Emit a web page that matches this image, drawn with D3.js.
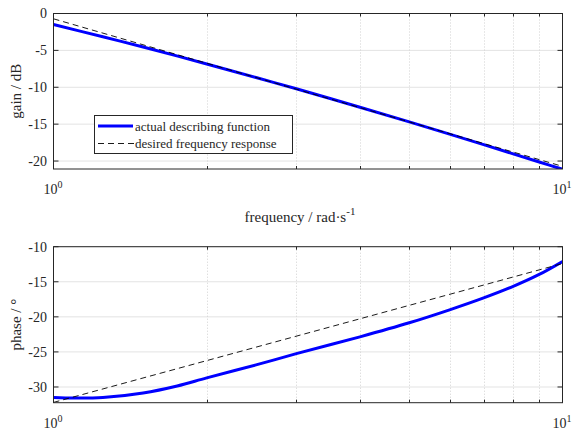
<!DOCTYPE html>
<html><head><meta charset="utf-8">
<script src="https://cdn.jsdelivr.net/npm/d3@7/dist/d3.min.js"></script>
<style>body{margin:0;background:#fff}svg{display:block}text{font-family:"Liberation Serif","Times New Roman",serif;fill:#262626}</style>
</head><body>
<script>
// ---- data ----
const freqGain = [1, 1.25, 1.5, 2, 2.5, 3, 4, 5, 6, 7, 8, 9, 10];
const gainActual = [-1.5, -3.16, -4.54, -6.84, -8.68, -10.21, -12.71, -14.7, -16.36, -17.78, -19.03, -20.13, -21.12];
const freqDesired = [1, 10];
const gainDesired = [-0.72, -20.72];
const freqPhase = [1, 1.1, 1.25, 1.5, 1.75, 2, 2.5, 3, 4, 5, 6, 7, 8, 9, 10];
const phaseActual = [-31.5, -31.58, -31.5, -30.85, -29.85, -28.7, -26.85, -25.25, -22.85, -20.85, -19.0, -17.3, -15.65, -13.95, -12.1];
const phaseDesired = [-32.2, -12.4];
const gainTicks = [0, -5, -10, -15, -20];
const phaseTicks = [-10, -15, -20, -25, -30];
const minorFreq = [2, 3, 4, 5, 6, 7, 8, 9];
const majorFreq = [1, 10];
const legendLabels = ["actual describing function", "desired frequency response"];

const W = 572, H = 434;
const svg = d3.select("body").append("svg").attr("width", W).attr("height", H);
const x = d3.scaleLog().domain([1, 10]).range([53.5, 562.5]);

function panel(id, top, bottom, domain, ticks, fa, ya, fd, yd, ylabel) {
  const y = d3.scaleLinear().domain(domain).range([bottom, top]);
  const g = svg.append("g");
  g.append("clipPath").attr("id", id).append("rect")
    .attr("x", x.range()[0]).attr("y", top).attr("width", x.range()[1] - x.range()[0]).attr("height", bottom - top);
  // grid
  g.selectAll(".hg").data(ticks).enter().append("line")
    .attr("x1", x.range()[0]).attr("x2", x.range()[1])
    .attr("y1", d => y(d)).attr("y2", d => y(d))
    .attr("stroke", "#e3e3e3").attr("stroke-width", 1);
  g.selectAll(".vg").data(minorFreq).enter().append("line")
    .attr("x1", d => Math.round(x(d)) + 0.5).attr("x2", d => Math.round(x(d)) + 0.5)
    .attr("y1", top).attr("y2", bottom)
    .attr("stroke", "#d0d0d0").attr("stroke-width", 1).attr("stroke-dasharray", "1,2");
  // ticks (inward, all four sides)
  const tl = 5;
  g.selectAll(".tb").data(minorFreq).enter().append("line")
    .attr("x1", d => Math.round(x(d)) + 0.5).attr("x2", d => Math.round(x(d)) + 0.5)
    .attr("y1", bottom).attr("y2", bottom - 3).attr("stroke", "#262626");
  g.selectAll(".tt").data(minorFreq).enter().append("line")
    .attr("x1", d => Math.round(x(d)) + 0.5).attr("x2", d => Math.round(x(d)) + 0.5)
    .attr("y1", top).attr("y2", top + 3).attr("stroke", "#262626");
  g.selectAll(".tl").data(ticks).enter().append("line")
    .attr("x1", x.range()[0]).attr("x2", x.range()[0] + tl)
    .attr("y1", d => y(d)).attr("y2", d => y(d)).attr("stroke", "#262626");
  g.selectAll(".tr").data(ticks).enter().append("line")
    .attr("x1", x.range()[1]).attr("x2", x.range()[1] - tl)
    .attr("y1", d => y(d)).attr("y2", d => y(d)).attr("stroke", "#262626");
  // data
  const lineA = d3.line().x((d, i) => x(fa[i])).y(d => y(d)).curve(d3.curveCatmullRom.alpha(0.5));
  const lineD = d3.line().x((d, i) => x(fd[i])).y(d => y(d));
  const pg = g.append("g").attr("clip-path", `url(#${id})`);
  pg.append("path").datum(ya).attr("d", lineA).attr("fill", "none")
    .attr("stroke", "#0000ff").attr("stroke-width", 3);
  pg.append("path").datum(yd).attr("d", lineD).attr("fill", "none")
    .attr("stroke", "#000").attr("stroke-width", 0.9).attr("stroke-dasharray", "6,4");
  // box
  g.append("rect").attr("x", x.range()[0]).attr("y", top)
    .attr("width", x.range()[1] - x.range()[0]).attr("height", bottom - top)
    .attr("fill", "none").attr("stroke", "#262626").attr("stroke-width", 1);
  // y tick labels
  g.selectAll(".yl").data(ticks).enter().append("text")
    .attr("x", 47).attr("y", d => y(d)).attr("dy", "0.35em")
    .attr("text-anchor", "end").attr("font-size", 14).text(d => d);
  // x tick labels 10^n
  majorFreq.forEach(f => {
    const t = g.append("text").attr("x", x(f) - 10).attr("y", bottom + 25)
      .attr("text-anchor", "start").attr("font-size", 14);
    t.append("tspan").text("10");
    t.append("tspan").attr("dy", -6).attr("font-size", 10).text(Math.round(Math.log10(f)));
  });
  // y label
  const cy = (top + bottom) / 2;
  g.append("text").attr("transform", `translate(21,${cy}) rotate(-90)`)
    .attr("text-anchor", "middle").attr("font-size", 15).text(ylabel);
  return y;
}

panel("c1", 13.5, 169, [-21.08, 0], gainTicks, freqGain, gainActual, freqDesired, gainDesired, "gain / dB");
panel("c2", 246.7, 402.7, [-32.24, -10], phaseTicks, freqPhase, phaseActual, freqDesired, phaseDesired, "phase / °");

// x label
const xl = svg.append("text").attr("x", 300).attr("y", 222).attr("text-anchor", "middle").attr("font-size", 15);
xl.append("tspan").text("frequency / rad·s");
xl.append("tspan").attr("dy", -7).attr("font-size", 11).text("-1");

// legend
const lg = svg.append("g");
lg.append("rect").attr("x", 94.5).attr("y", 115.5).attr("width", 198).attr("height", 38)
  .attr("fill", "#fff").attr("stroke", "#262626").attr("stroke-width", 1);
lg.append("line").attr("x1", 98).attr("x2", 133).attr("y1", 126).attr("y2", 126)
  .attr("stroke", "#0000ff").attr("stroke-width", 3);
lg.append("line").attr("x1", 98).attr("x2", 134).attr("y1", 143.5).attr("y2", 143.5)
  .attr("stroke", "#000").attr("stroke-width", 0.9).attr("stroke-dasharray", "6,4");
lg.selectAll(".lt").data(legendLabels).enter().append("text")
  .attr("x", 135).attr("y", (d, i) => 126 + i * 17.5).attr("dy", "0.35em")
  .attr("font-size", 13).text(d => d);
</script>
</body></html>
